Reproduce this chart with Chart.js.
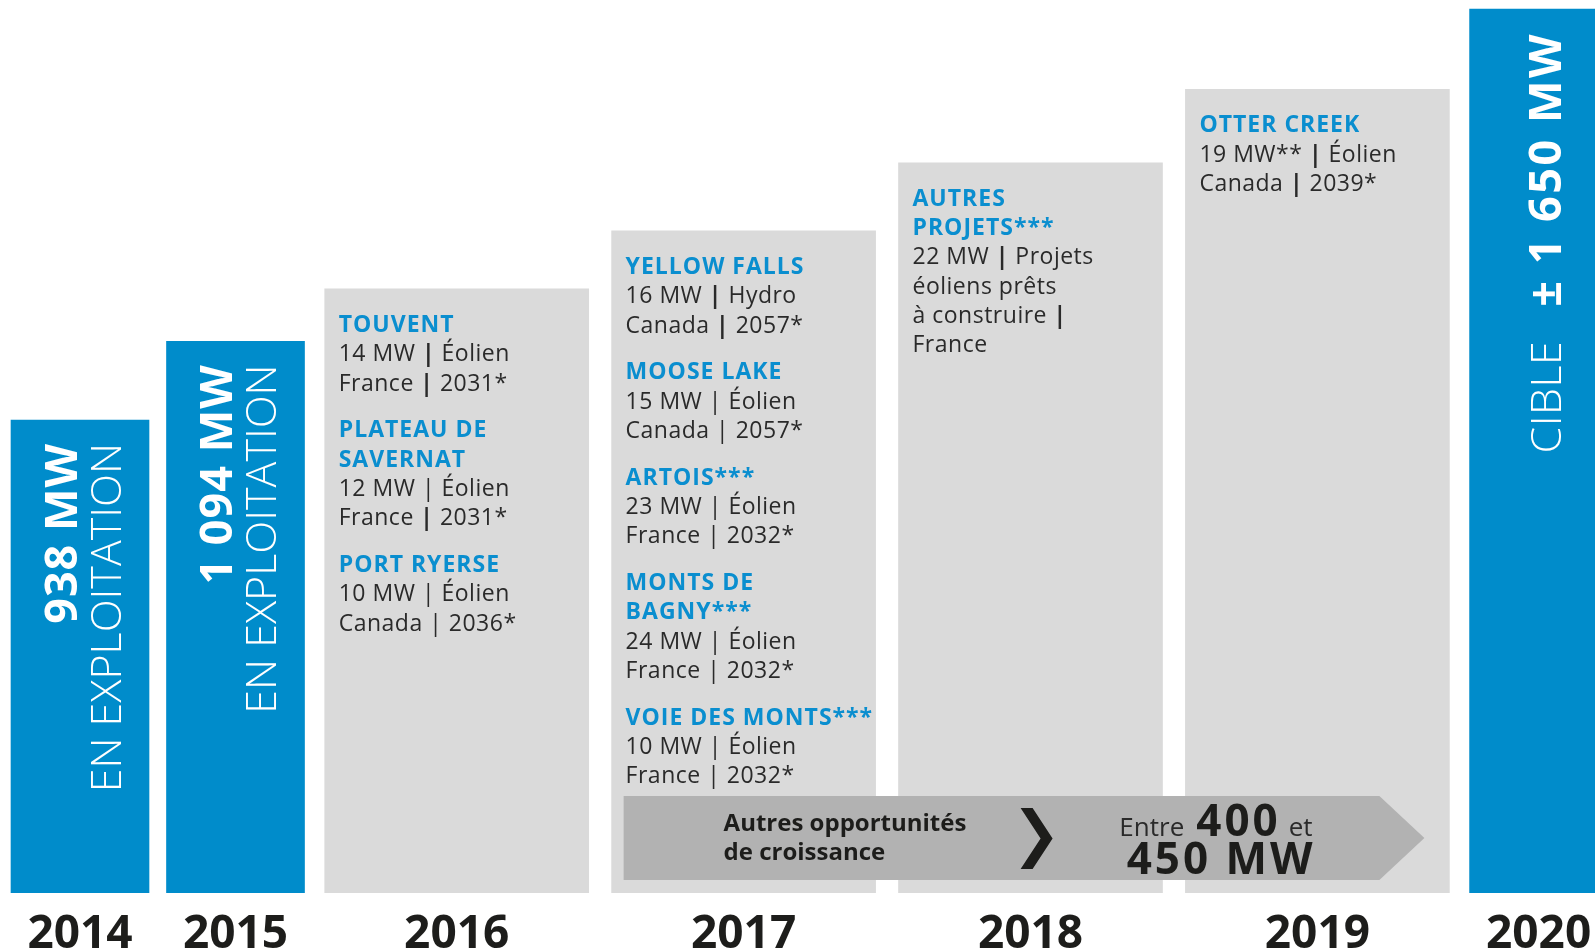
<!DOCTYPE html>
<html><head><meta charset="utf-8">
<script src="https://cdn.jsdelivr.net/npm/chart.js@4.4.1/dist/chart.umd.min.js"></script>
<style>html,body{margin:0;padding:0;background:#fff;overflow:hidden}#wrap{width:1595px;height:949px;position:relative}</style>
</head><body><div id="wrap"><canvas id="c"></canvas></div>
<script>
// ---------- DATA ----------
const years = ['2014', '2015', '2016', '2017', '2018', '2019', '2020'];
// bar heights (MW scale, 938 MW = 2014 bar)
const capacityMW = [938, 1094, 1198, 1313, 1448, 1594, 1753];
const barKind = ['exploitation', 'exploitation', 'projets', 'projets', 'projets', 'projets', 'cible'];
const headline = ['938 MW', '1 094 MW', '', '', '', '', '± 1 650 MW'];
const subline = ['EN EXPLOITATION', 'EN EXPLOITATION', '', '', '', '', 'CIBLE'];

// "{|}" = bold separator bar
const projets2016 = [
  { name: ['TOUVENT'], info: ['14 MW {|} Éolien', 'France {|} 2031*'] },
  { name: ['PLATEAU DE', 'SAVERNAT'], info: ['12 MW | Éolien', 'France {|} 2031*'] },
  { name: ['PORT RYERSE'], info: ['10 MW | Éolien', 'Canada | 2036*'] }
];
const projets2017 = [
  { name: ['YELLOW FALLS'], info: ['16 MW {|} Hydro', 'Canada {|} 2057*'] },
  { name: ['MOOSE LAKE'], info: ['15 MW | Éolien', 'Canada | 2057*'] },
  { name: ['ARTOIS***'], info: ['23 MW | Éolien', 'France | 2032*'] },
  { name: ['MONTS DE', 'BAGNY***'], info: ['24 MW | Éolien', 'France | 2032*'] },
  { name: ['VOIE DES MONTS***'], info: ['10 MW | Éolien', 'France | 2032*'] }
];
const projets2018 = [
  { name: ['AUTRES', 'PROJETS***'], info: ['22 MW {|} Projets', 'éoliens prêts', 'à construire {|}', 'France'] }
];
const projets2019 = [
  { name: ['OTTER CREEK'], info: ['19 MW** {|} Éolien', 'Canada {|} 2039*'] }
];
const projetsParAnnee = [null, null, projets2016, projets2017, projets2018, projets2019, null];

const growthLabel = ['Autres opportunités', 'de croissance'];
const growthRange = ['Entre', '400', 'et', '450 MW'];

// ---------- STYLE / LAYOUT ----------
const BLUE = '#008ccb', GRAY = '#dadada', BAND = '#b2b2b2', INK = '#1d1d1b', TITLE = '#0a8ecf', BODY = '#2a2a2a';
const FONT = '"Open Sans", "Noto Sans", sans-serif';
const SPAN_NARROW = 1, SPAN_WIDE = 1.845, UNIT_PX = 155.5, W = 1595, AXIS_H = 56;

const spans = barKind.map(k => k === 'projets' ? SPAN_WIDE : SPAN_NARROW);
const centers = [];
(function () { let acc = 0; spans.forEach(s => { centers.push(acc + s / 2); acc += s; }); })();
const xMin = -0.0145, xMax = xMin + W / UNIT_PX;

const narrowIdx = years.map((y, i) => i).filter(i => barKind[i] !== 'projets');
const wideIdx = years.map((y, i) => i).filter(i => barKind[i] === 'projets');

function drawRich(ctx, str, x, y, reg, bold) {
  const parts = str.split('{|}');
  let cx = x;
  parts.forEach((p, k) => {
    if (k > 0) { ctx.font = bold; ctx.fillText('|', cx, y); cx += ctx.measureText('|').width; }
    ctx.font = reg; ctx.fillText(p, cx, y); cx += ctx.measureText(p).width;
  });
}

const annotate = {
  id: 'annotate',
  afterDatasetsDraw(chart) {
    const ctx = chart.ctx;
    const bars = [];
    chart.data.datasets.forEach((ds, di) => {
      chart.getDatasetMeta(di).data.forEach((el, j) => { bars[ds.data[j].i] = el; });
    });
    ctx.save();
    // vertical texts in blue bars
    bars.forEach((el, i) => {
      if (barKind[i] === 'projets') return;
      const top = el.y + 23;
      ctx.fillStyle = '#ffffff';
      ctx.textAlign = 'right';
      ctx.textBaseline = 'alphabetic';
      if (barKind[i] === 'exploitation') {
        ctx.save(); ctx.translate(el.x - 3.5, top); ctx.rotate(-Math.PI / 2);
        ctx.font = '700 45px ' + FONT; ctx.letterSpacing = '1px'; ctx.fillText(headline[i], 0, 0); ctx.restore();
        ctx.save(); ctx.translate(el.x + 40.5, top); ctx.rotate(-Math.PI / 2);
        ctx.font = '300 43px ' + FONT; ctx.letterSpacing = '0px'; ctx.fillText(subline[i], 0, 0); ctx.restore();
      } else {
        ctx.save(); ctx.translate(el.x + 22, top); ctx.rotate(-Math.PI / 2);
        ctx.font = '700 45px ' + FONT; ctx.letterSpacing = '2.5px'; ctx.fillText(headline[i], 0, 0);
        const w = ctx.measureText(headline[i]).width;
        ctx.letterSpacing = '0.5px';
        ctx.font = '300 43px ' + FONT; ctx.fillText(subline[i], -w - 34, 0);
        ctx.restore();
      }
    });
    ctx.letterSpacing = '0px';
    // project lists in gray bars
    const titleFont = '700 23px ' + FONT, regFont = '400 23px ' + FONT, boldFont = '700 23px ' + FONT;
    bars.forEach((el, i) => {
      const list = projetsParAnnee[i];
      if (!list) return;
      const left = el.x - el.width / 2 + 14;
      let y = el.y + 43;
      ctx.textAlign = 'left'; ctx.textBaseline = 'alphabetic';
      list.forEach((p, k) => {
        if (k > 0) y += 17.5;
        ctx.fillStyle = TITLE; ctx.font = titleFont; ctx.letterSpacing = '1px';
        p.name.forEach(n => { ctx.fillText(n, left, y); y += 29.3; });
        ctx.letterSpacing = '0.5px';
        ctx.fillStyle = BODY;
        p.info.forEach(t => { drawRich(ctx, t, left, y, regFont, boldFont); y += 29.3; });
        ctx.letterSpacing = '0px';
      });
    });
    // growth band arrow across 2017-2019
    const b17 = bars[3], b19 = bars[5];
    const base = b17.base;
    const bl = b17.x - b17.width / 2 + 12;
    const tip = b19.x + b19.width / 2 - 25;
    const bt = base - 97, bb = base - 13, bm = (bt + bb) / 2;
    ctx.fillStyle = BAND;
    ctx.beginPath();
    ctx.moveTo(bl, bt); ctx.lineTo(tip - 45, bt); ctx.lineTo(tip, bm); ctx.lineTo(tip - 45, bb); ctx.lineTo(bl, bb);
    ctx.closePath(); ctx.fill();
    ctx.fillStyle = INK; ctx.textAlign = 'left';
    ctx.font = '700 24px ' + FONT;
    ctx.fillText(growthLabel[0], bl + 100, bt + 35);
    ctx.fillText(growthLabel[1], bl + 100, bt + 64);
    // chevron
    const cx0 = bl + 397, cy0 = bt + 12, cy1 = bb - 11, cxm = cx0 + 32, cym = (cy0 + cy1) / 2;
    ctx.beginPath();
    ctx.moveTo(cx0, cy0); ctx.lineTo(cx0 + 12, cy0); ctx.lineTo(cxm, cym); ctx.lineTo(cx0 + 12, cy1);
    ctx.lineTo(cx0, cy1); ctx.lineTo(cxm - 12, cym); ctx.closePath(); ctx.fill();
    // range text, right aligned
    const rx = bl + 689;
    ctx.textAlign = 'left';
    ctx.font = '400 26px ' + FONT; ctx.fillStyle = '#2a2a2a';
    let x = rx - ctx.measureText(growthRange[2]).width;
    ctx.fillText(growthRange[2], x, bt + 40);
    ctx.font = '700 44px ' + FONT; ctx.fillStyle = INK; ctx.letterSpacing = '3px';
    x -= ctx.measureText(growthRange[1]).width + 8;
    ctx.fillText(growthRange[1], x, bt + 40);
    ctx.letterSpacing = '0px';
    ctx.font = '400 26px ' + FONT; ctx.fillStyle = '#2a2a2a';
    x -= ctx.measureText(growthRange[0]).width + 12;
    ctx.fillText(growthRange[0], x, bt + 40);
    ctx.font = '700 44px ' + FONT; ctx.fillStyle = INK; ctx.letterSpacing = '3px';
    ctx.fillText(growthRange[3], rx - ctx.measureText(growthRange[3]).width + 3, bt + 78);
    ctx.letterSpacing = '0px';
    ctx.restore();
  }
};

new Chart(document.getElementById('c'), {
  type: 'bar',
  data: {
    datasets: [
      {
        label: 'En exploitation / cible',
        data: narrowIdx.map(i => ({ x: centers[i], y: capacityMW[i], i })),
        backgroundColor: BLUE, barThickness: 138, grouped: false
      },
      {
        label: 'Projets',
        data: wideIdx.map(i => ({ x: centers[i], y: capacityMW[i], i })),
        backgroundColor: GRAY, barThickness: 264, grouped: false
      }
    ]
  },
  options: {
    responsive: true, maintainAspectRatio: false, animation: false,
    layout: { padding: 0 },
    plugins: { legend: { display: false }, tooltip: { enabled: false } },
    scales: {
      x: {
        type: 'linear', min: xMin, max: xMax, bounds: 'data', offset: false,
        grid: { display: false, drawTicks: false }, border: { display: false },
        afterBuildTicks: axis => { axis.ticks = centers.map(v => ({ value: v })); },
        afterFit: scale => { scale.paddingLeft = 0; scale.paddingRight = 0; scale.height = AXIS_H; },
        ticks: {
          autoSkip: false, maxRotation: 0, minRotation: 0, padding: 23,
          color: INK, font: { family: '"Open Sans", sans-serif', weight: '700', size: 46, lineHeight: 0.826 },
          callback: (v, idx) => years[idx]
        }
      },
      y: { display: false, min: 0, max: 1771, bounds: 'data' }
    }
  },
  plugins: [annotate]
});
</script></body></html>
